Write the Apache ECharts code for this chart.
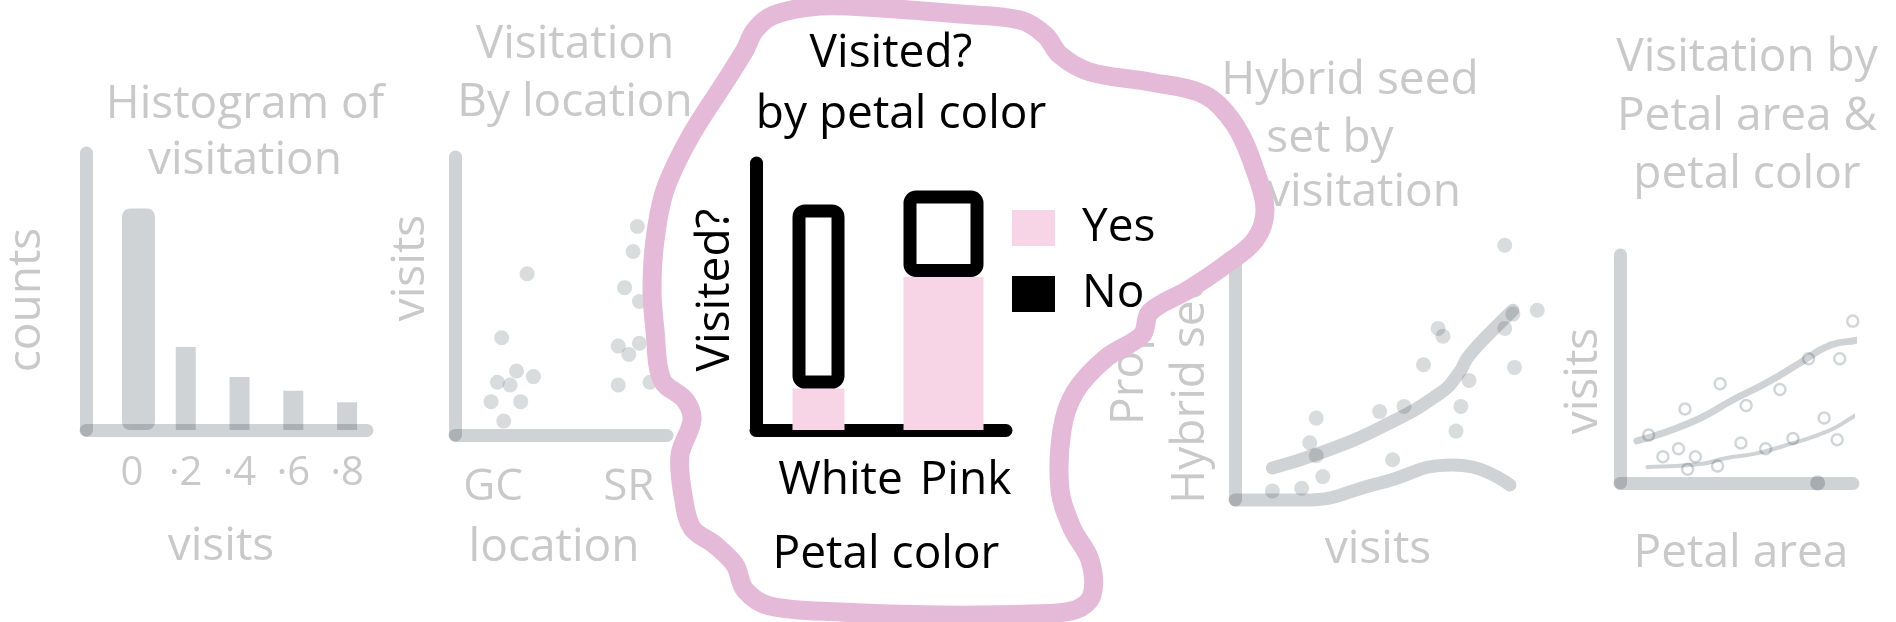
<!DOCTYPE html>
<html>
<head>
<meta charset="utf-8">
<script src="https://cdn.jsdelivr.net/npm/echarts@6/dist/echarts.min.js"></script>
<style>
  html, body { margin: 0; padding: 0; background: #fff; }
  #chart { width: 1896px; height: 622px; }
</style>
</head>
<body>
<div id="chart"></div>
<script>
// panel 1: histogram of visitation
const histBins = [0, 0.2, 0.4, 0.6, 0.8];
const histCounts = [9.6, 3.6, 2.3, 1.7, 1.2];

// panel 2: visitation by location (x = jitter within the location column)
const locations = ['GC', 'SR'];
const gcJitter = [0.34, 0.22, 0.29, 0.37, 0.2, 0.26, 0.17, 0.31, 0.23];
const gcVisits = [0.58, 0.35, 0.23, 0.21, 0.19, 0.18, 0.12, 0.12, 0.05];
const srJitter = [0.86, 0.84, 0.8, 0.87, 0.77, 0.82, 0.87, 0.77, 0.92];
const srVisits = [0.75, 0.66, 0.53, 0.48, 0.32, 0.29, 0.33, 0.18, 0.19];

// panel 3: visited? by petal color
const petalColors = ['White', 'Pink'];
const visitedYes = [0.18, 0.665];
const visitedNo = [0.8, 0.375];

// panel 4: hybrid seed set by visitation
const seedVisits = [0.83, 0.93, 0.855, 0.83, 0.625, 0.64, 0.58, 0.86, 0.72, 0.695, 0.68, 0.52, 0.445, 0.25, 0.23, 0.25, 0.485, 0.27, 0.205, 0.115];
const seedProp = [0.98, 0.73, 0.715, 0.66, 0.66, 0.63, 0.52, 0.51, 0.46, 0.36, 0.265, 0.36, 0.34, 0.315, 0.22, 0.17, 0.155, 0.09, 0.045, 0.035];
const seedUpper = [[0.115, 0.123], [0.26, 0.18], [0.445, 0.277], [0.63, 0.41], [0.69, 0.49], [0.715, 0.546], [0.763, 0.615], [0.855, 0.73]];
const seedLower = [[0, 0], [0.21, 0], [0.445, 0.065], [0.67, 0.135], [0.73, 0.127], [0.846, 0.058]];

// panel 5: visitation by petal area & petal color
const pinkArea = [0.11, 0.25, 0.385, 0.485, 0.615, 0.725, 0.845, 0.895];
const pinkVisits = [0.21, 0.325, 0.435, 0.34, 0.41, 0.545, 0.545, 0.71];
const whiteArea = [0.165, 0.225, 0.26, 0.29, 0.375, 0.465, 0.56, 0.665, 0.785, 0.835];
const whiteVisits = [0.115, 0.15, 0.06, 0.115, 0.075, 0.175, 0.15, 0.195, 0.285, 0.19];
const pinkFit = [[0.065, 0.185], [0.18, 0.225], [0.31, 0.285], [0.435, 0.365], [0.565, 0.44], [0.69, 0.525], [0.81, 0.605], [0.935, 0.635], [1.01, 0.695]];
const whiteFit = [[0.105, 0.07], [0.31, 0.083], [0.41, 0.11], [0.525, 0.13], [0.665, 0.175], [0.795, 0.225], [0.875, 0.275], [0.975, 0.35]];
const zeroVisit = [[0.76, 0]];

// highlight outline round the middle panel (page pixels)
const blobOutline = [[774, 15], [820, 6], [880, 8], [960, 14], [1020, 20], [1045, 35], [1060, 55], [1090, 72], [1150, 82], [1205, 95], [1235, 125], [1255, 170], [1265, 210], [1255, 240], [1225, 265], [1188, 290], [1150, 312], [1142, 335], [1106, 358], [1075, 392], [1062, 430], [1060, 490], [1072, 528], [1090, 560], [1092, 595], [1075, 610], [1030, 614], [940, 615], [840, 612], [770, 606], [745, 590], [735, 565], [715, 545], [692, 528], [683, 495], [680, 455], [692, 420], [685, 400], [662, 380], [655, 330], [652, 290], [655, 240], [665, 190], [690, 137], [725, 82], [745, 50], [755, 30]];

const FONT = "'Open Sans', sans-serif";
const GREY = 'rgba(40,55,65,0.22)';
const GREY_TEXT = '#c9c9c9';
const PINK = '#f8d5e6';

const chart = echarts.init(document.getElementById('chart'));

function greyAxis(extra) {
  return Object.assign({
    axisLine: { show: true, onZero: false, lineStyle: { color: GREY, width: 13, cap: 'round' } },
    axisTick: { show: false },
    axisLabel: { show: false },
    splitLine: { show: false }
  }, extra);
}

function label(text, x, y, color, z, rot, align) {
  return {
    type: 'text', x: x, y: y, z: z, rotation: rot || 0,
    style: {
      text: text, fill: color, font: '46px ' + FONT,
      align: align || 'center', verticalAlign: 'middle'
    }
  };
}

const zip = (a, b) => a.map((v, i) => [v, b[i]]);

const option = {
  animation: false,
  backgroundColor: '#fff',
  grid: [
    { left: 86, top: 153, width: 281, height: 277 },
    { left: 455, top: 157, width: 212, height: 278 },
    { left: 756, top: 163, width: 250, height: 267 },
    { left: 1235, top: 240, width: 325, height: 260 },
    { left: 1620, top: 255, width: 233, height: 228 },
    { left: 0, top: 0, width: 1896, height: 622 }
  ],
  xAxis: [
    greyAxis({
      gridIndex: 0, type: 'value', min: -0.171, max: 0.874,
      axisLabel: {
        show: true, customValues: histBins, margin: 24,
        fontFamily: FONT, fontSize: 40, color: GREY_TEXT,
        formatter: v => (v === 0 ? '0' : '·' + Math.round(v * 10))
      }
    }),
    greyAxis({
      gridIndex: 1, type: 'value', min: 0, max: 1,
      axisLabel: {
        show: true, customValues: [0.18, 0.82], margin: 30,
        fontFamily: FONT, fontSize: 44, color: GREY_TEXT,
        formatter: v => (v < 0.5 ? locations[0] : locations[1])
      }
    }),
    {
      gridIndex: 2, type: 'category', data: petalColors, z: 20,
      axisLine: { show: true, lineStyle: { color: '#000', width: 13, cap: 'round' } },
      axisTick: { show: false },
      axisLabel: {
        interval: 0, margin: 28, padding: [0, 0, 0, 44],
        fontFamily: FONT, fontSize: 46, color: '#000'
      }
    },
    {
      gridIndex: 2, type: 'category', data: petalColors, show: false
    },
    { gridIndex: 3, type: 'value', min: 0, max: 1, show: false },
    greyAxis({ gridIndex: 4, type: 'value', min: 0, max: 0.896 }),
    { gridIndex: 5, type: 'value', min: 0, max: 1896, show: false }
  ],
  yAxis: [
    greyAxis({ gridIndex: 0, type: 'value', min: 0, max: 12 }),
    greyAxis({ gridIndex: 1, type: 'value', min: 0, max: 1 }),
    {
      gridIndex: 2, type: 'value', min: 0, max: 1.16, z: 20,
      axisLine: { show: true, lineStyle: { color: '#000', width: 13, cap: 'round' } },
      axisTick: { show: false }, axisLabel: { show: false }, splitLine: { show: false }
    },
    greyAxis({ gridIndex: 3, type: 'value', min: 0, max: 1 }),
    greyAxis({ gridIndex: 4, type: 'value', min: 0, max: 1 }),
    { gridIndex: 5, type: 'value', min: 0, max: 622, inverse: true, show: false }
  ],
  legend: {
    orient: 'vertical', left: 1012, top: 205, padding: 0, z: 30,
    selectedMode: false, itemWidth: 43, itemHeight: 36, itemGap: 20,
    textStyle: { fontFamily: FONT, fontSize: 46, color: '#000', lineHeight: 46, padding: [0, 0, 0, 22] },
    data: [
      { name: 'Yes', icon: 'rect', itemStyle: { color: PINK, borderWidth: 0 } },
      { name: 'No', icon: 'rect', itemStyle: { color: '#000', borderWidth: 0 } }
    ]
  },
  graphic: [
    label('Histogram of', 245, 105, GREY_TEXT, 1),
    label('visitation', 245, 161, GREY_TEXT, 1),
    label('counts', 27, 300, GREY_TEXT, 1, Math.PI / 2),
    label('visits', 221, 547, GREY_TEXT, 1),
    label('Visitation', 575, 45, GREY_TEXT, 1),
    label('By location', 575, 103, GREY_TEXT, 1),
    label('visits', 411, 268, GREY_TEXT, 1, Math.PI / 2),
    label('location', 554, 548, GREY_TEXT, 1),
    label('Hybrid seed', 1350, 81, GREY_TEXT, 1),
    label('set by', 1330, 139, GREY_TEXT, 1),
    label('visitation', 1364, 193, GREY_TEXT, 1),
    label('Proportion', 1130, 425, GREY_TEXT, 1, Math.PI / 2, 'left'),
    label('Hybrid seed', 1191, 375, GREY_TEXT, 1, Math.PI / 2),
    label('visits', 1378, 550, GREY_TEXT, 1),
    label('Visitation by', 1747, 58, GREY_TEXT, 1),
    label('Petal area &', 1747, 117, GREY_TEXT, 1),
    label('petal color', 1747, 175, GREY_TEXT, 1),
    label('visits', 1584, 381, GREY_TEXT, 1, Math.PI / 2),
    label('Petal area', 1741, 554, GREY_TEXT, 1),
    label('Visited?', 891, 54, '#000', 30),
    label('by petal color', 901, 115, '#000', 30),
    label('Visited?', 716, 290, '#000', 30, Math.PI / 2),
    label('Petal color', 886, 555, '#000', 30)
  ],
  series: [
    // panel 1
    {
      type: 'bar', xAxisIndex: 0, yAxisIndex: 0, barWidth: 33, barGap: '-100%',
      itemStyle: { color: GREY, borderRadius: 8 },
      data: [[histBins[0], histCounts[0]]]
    },
    {
      type: 'bar', xAxisIndex: 0, yAxisIndex: 0, barWidth: 20, barGap: '-100%',
      itemStyle: { color: GREY },
      data: zip(histBins, histCounts).slice(1)
    },
    // panel 2
    {
      type: 'scatter', xAxisIndex: 1, yAxisIndex: 1, symbolSize: 15,
      itemStyle: { color: GREY }, data: zip(gcJitter, gcVisits)
    },
    {
      type: 'scatter', xAxisIndex: 1, yAxisIndex: 1, symbolSize: 15,
      itemStyle: { color: GREY }, data: zip(srJitter, srVisits)
    },
    // panel 4
    {
      type: 'line', xAxisIndex: 4, yAxisIndex: 3, smooth: true, showSymbol: false, clip: false,
      lineStyle: { color: GREY, width: 13, cap: 'round' }, data: seedUpper
    },
    {
      type: 'line', xAxisIndex: 4, yAxisIndex: 3, smooth: true, showSymbol: false, clip: false,
      lineStyle: { color: GREY, width: 13, cap: 'round' }, data: seedLower
    },
    {
      type: 'scatter', xAxisIndex: 4, yAxisIndex: 3, symbolSize: 15, clip: false,
      itemStyle: { color: GREY }, data: zip(seedVisits, seedProp)
    },
    // panel 5
    {
      type: 'line', xAxisIndex: 5, yAxisIndex: 4, smooth: true, showSymbol: false, clip: false,
      lineStyle: { color: GREY, width: 7, cap: 'round' }, data: pinkFit
    },
    {
      type: 'line', xAxisIndex: 5, yAxisIndex: 4, smooth: true, showSymbol: false, clip: false,
      lineStyle: { color: GREY, width: 4, cap: 'round' }, data: whiteFit
    },
    {
      type: 'scatter', xAxisIndex: 5, yAxisIndex: 4, symbolSize: 11, clip: false,
      itemStyle: { color: 'rgba(255,255,255,0)', borderColor: 'rgba(40,55,65,0.26)', borderWidth: 2.5 },
      data: zip(pinkArea, pinkVisits).concat(zip(whiteArea, whiteVisits))
    },
    {
      type: 'scatter', xAxisIndex: 5, yAxisIndex: 4, symbolSize: 15, clip: false,
      itemStyle: { color: 'rgba(40,55,65,0.3)' }, data: zeroVisit
    },
    // highlight outline
    {
      type: 'custom', xAxisIndex: 6, yAxisIndex: 5, z: 10, silent: true,
      data: blobOutline,
      renderItem: function (params, api) {
        if (params.dataIndex !== 0) return null;
        const pts = blobOutline.map(p => api.coord(p));
        return {
          type: 'polygon',
          shape: { points: pts, smooth: 0.35 },
          style: { fill: '#fff', stroke: '#e5bad8', lineWidth: 19, lineJoin: 'round' }
        };
      }
    },
    // panel 3
    {
      name: 'Yes', type: 'bar', xAxisIndex: 2, yAxisIndex: 2, stack: 'white', barWidth: 52, z: 20,
      itemStyle: { color: PINK },
      data: [visitedYes[0], '-']
    },
    {
      name: 'No', type: 'bar', xAxisIndex: 2, yAxisIndex: 2, stack: 'white', barWidth: 52, z: 21,
      itemStyle: { color: '#fff', borderColor: '#000', borderWidth: 13, borderRadius: 6, borderJoin: 'round' },
      data: [visitedNo[0], '-']
    },
    {
      name: 'Yes', type: 'bar', xAxisIndex: 3, yAxisIndex: 2, stack: 'pink', barWidth: 80, z: 20,
      itemStyle: { color: PINK },
      data: ['-', visitedYes[1]]
    },
    {
      name: 'No', type: 'bar', xAxisIndex: 3, yAxisIndex: 2, stack: 'pink', barWidth: 80, z: 21,
      itemStyle: { color: '#fff', borderColor: '#000', borderWidth: 13, borderRadius: 6, borderJoin: 'round' },
      data: ['-', visitedNo[1]]
    }
  ]
};

chart.setOption(option);
</script>
</body>
</html>
